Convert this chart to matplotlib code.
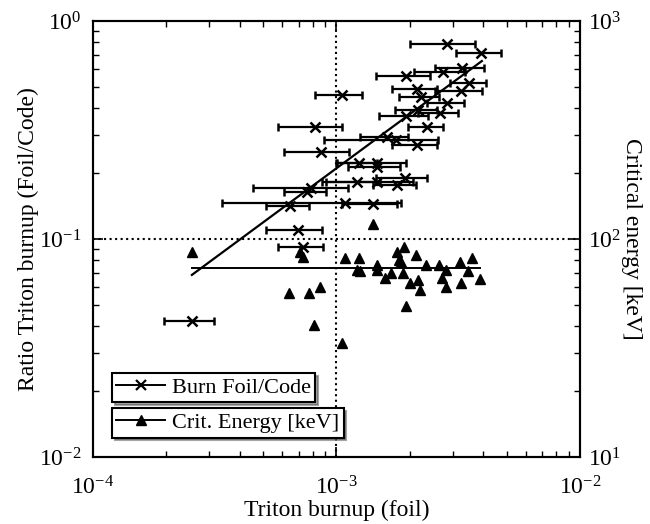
import numpy as np
import matplotlib
matplotlib.use('Agg')
from matplotlib import pyplot as plt
from matplotlib.lines import Line2D

plt.rcParams['font.family'] = 'Liberation Serif'
plt.rcParams['mathtext.fontset'] = 'custom'
plt.rcParams['mathtext.rm'] = 'Liberation Serif'
plt.rcParams['mathtext.it'] = 'Liberation Serif:italic'

# burn ratio foil/code vs triton burnup (foil), symmetric x errors
burn_x = [2.86e-3, 3.92e-3, 3.29e-3, 2.73e-3, 1.94e-3, 3.52e-3, 3.25e-3, 2.14e-3,
          2.22e-3, 2.86e-3, 2.16e-3, 1.94e-3, 2.66e-3, 2.35e-3, 1.61e-3, 1.75e-3,
          2.14e-3, 1.47e-3, 1.24e-3, 1.47e-3, 1.21e-3, 1.47e-3, 1.77e-3, 1.91e-3,
          1.09e-3, 1.41e-3, 1.05e-3, 8.16e-4, 8.67e-4, 7.85e-4, 7.6e-4, 6.44e-4,
          6.95e-4, 7.28e-4, 2.55e-4]
burn_y = [0.784, 0.713, 0.609, 0.583, 0.562, 0.520, 0.475, 0.485,
          0.448, 0.4205, 0.391, 0.367, 0.3785, 0.3246, 0.294, 0.285,
          0.270, 0.223, 0.223, 0.214, 0.182, 0.182, 0.177, 0.1905,
          0.1455, 0.145, 0.458, 0.3246, 0.2506, 0.172, 0.165, 0.141,
          0.110, 0.0919, 0.0421]
burn_xerr = [0.85e-3, 0.83e-3, 0.75e-3, 0.65e-3, 0.48e-3, 0.6e-3, 0.72e-3, 0.44e-3,
             0.42e-3, 0.5e-3, 0.42e-3, 0.45e-3, 0.5e-3, 0.38e-3, 0.36e-3, 0.86e-3,
             0.44e-3, 0.47e-3, 0.23e-3, 0.35e-3, 0.3e-3, 0.6e-3, 0.35e-3, 0.45e-3,
             0.75e-3, 0.36e-3, 0.23e-3, 2.4e-4, 2.6e-4, 3.3e-4, 1.5e-4, 1.3e-4,
             1.8e-4, 1.5e-4, 0.6e-4]

# critical energy [keV] vs triton burnup (foil)
crit_x = [2.55e-4, 6.38e-4, 7.75e-4, 8.55e-4, 8.08e-4, 1.053e-3, 7.08e-4, 7.28e-4,
          1.41e-3, 1.089e-3, 1.237e-3, 1.21e-3, 1.25e-3, 1.47e-3, 1.47e-3, 1.675e-3,
          1.58e-3, 1.773e-3, 1.89e-3, 1.84e-3, 1.875e-3, 2.0e-3, 2.12e-3, 2.16e-3,
          2.20e-3, 2.33e-3, 2.635e-3, 2.71e-3, 2.82e-3, 2.82e-3, 3.21e-3, 3.25e-3,
          3.47e-3, 3.60e-3, 3.88e-3, 1.94e-3, 1.80e-3]
crit_e = [86.7, 56.2, 56.2, 59.9, 40.3, 33.3, 86.7, 83.0,
          116.5, 81.8, 81.8, 72.4, 71.3, 76.0, 72.1, 69.8,
          66.3, 86.7, 91.9, 78.0, 69.8, 62.8, 84.0, 64.9,
          58.3, 76.0, 76.0, 66.3, 72.1, 59.9, 78.0, 62.8,
          71.3, 81.8, 65.6, 49.3, 80.0]

# fit lines
fit_burn_x = [2.55e-4, 3.96e-3]
fit_burn_y = [0.0684, 0.655]
fit_crit_x = [2.55e-4, 3.88e-3]
fit_crit_e = [73.6, 73.6]

fig = plt.figure(figsize=(6.5, 5.24), dpi=100)
ax = fig.add_axes([0.143, 0.128, 0.749, 0.832])
ax2 = ax.twinx()

ax.errorbar(burn_x, burn_y, xerr=burn_xerr, fmt='x', color='black', ms=7, mew=1.8,
            elinewidth=1.6, capsize=3, capthick=1.6)
ax.plot(fit_burn_x, fit_burn_y, color='black', lw=1.6)
ax.axvline(1e-3, color='black', ls=':', lw=1.5)
ax.axhline(0.1, color='black', ls=':', lw=1.5)

ax2.plot(crit_x, crit_e, '^', color='black', ms=7)
ax2.plot(fit_crit_x, fit_crit_e, color='black', lw=1.4)

ax.set_xscale('log')
ax.set_yscale('log')
ax2.set_yscale('log')
ax.set_xlim(1e-4, 1e-2)
ax.set_ylim(1e-2, 1e0)
ax2.set_ylim(10, 1000)

for a in (ax, ax2):
    a.tick_params(which='both', direction='in', labelsize=17)
    a.tick_params(which='major', length=7, width=1.2)
    a.tick_params(which='minor', length=4, width=1.0)
    for s in a.spines.values():
        s.set_linewidth(1.5)
ax.tick_params(which='both', top=True)
ax.tick_params(axis='x', pad=14)
ax.tick_params(axis='y', pad=8)
ax2.tick_params(which='both', pad=6)

ax.set_xlabel('Triton burnup (foil)', fontsize=17, labelpad=0)
ax.set_ylabel('Ratio Triton burnup (Foil/Code)', fontsize=17, labelpad=0)
ax2.set_ylabel('Critical energy [keV]', fontsize=17, rotation=-90, labelpad=15)

h1 = [Line2D([], [], color='black', marker='x', ms=7, mew=1.6, lw=1.4)]
h2 = [Line2D([], [], color='black', marker='^', ms=7, lw=1.4)]
leg1 = ax2.legend(h1, ['Burn Foil/Code'], loc='upper left', bbox_to_anchor=(0.039, 0.193),
                  borderaxespad=0, fontsize=16, fancybox=False, shadow=True,
                  edgecolor='black', framealpha=1, handlelength=2.2,
                  borderpad=0.2, handletextpad=0.3)
leg1.get_frame().set_linewidth(1.5)
ax2.add_artist(leg1)
leg2 = ax2.legend(h2, ['Crit. Energy [keV]'], loc='upper left', bbox_to_anchor=(0.039, 0.112),
                  borderaxespad=0, fontsize=16, fancybox=False, shadow=True,
                  edgecolor='black', framealpha=1, handlelength=2.2,
                  borderpad=0.2, handletextpad=0.3)
leg2.get_frame().set_linewidth(1.5)

plt.savefig('out.png')
